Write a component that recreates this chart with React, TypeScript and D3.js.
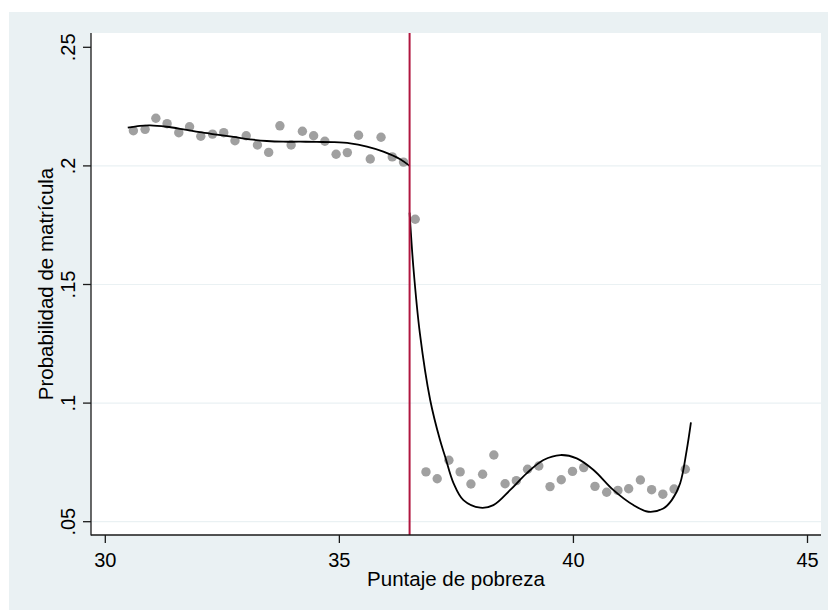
import React, { useEffect, useRef } from 'react';
import * as d3 from 'd3';

// binned means, left of the cutoff
const leftX = [30.60, 30.85, 31.08, 31.32, 31.57, 31.80, 32.04, 32.29, 32.53, 32.77, 33.01, 33.25, 33.49,
  33.73, 33.97, 34.21, 34.45, 34.69, 34.93, 35.17, 35.41, 35.66, 35.89, 36.13, 36.37];
const leftY = [0.2148, 0.2154, 0.2201, 0.2178, 0.2140, 0.2165, 0.2125, 0.2134, 0.2140, 0.2106, 0.2127, 0.2088, 0.2057,
  0.2169, 0.2088, 0.2146, 0.2127, 0.2104, 0.2049, 0.2056, 0.2129, 0.2029, 0.2121, 0.2038, 0.2016];

// binned means, right of the cutoff
const rightX = [36.62, 36.85, 37.09, 37.34, 37.58, 37.81, 38.06, 38.30, 38.54, 38.78, 39.02, 39.26, 39.50,
  39.74, 39.98, 40.22, 40.46, 40.71, 40.95, 41.18, 41.43, 41.67, 41.91, 42.15, 42.39];
const rightY = [0.1775, 0.0710, 0.0681, 0.0759, 0.0710, 0.0659, 0.0700, 0.0781, 0.0660, 0.0673, 0.0721, 0.0735, 0.0648,
  0.0677, 0.0712, 0.0728, 0.0649, 0.0624, 0.0632, 0.0639, 0.0676, 0.0635, 0.0616, 0.0638, 0.0721];

// fitted polynomial
const fitLeftX = [30.48, 30.74, 30.96, 31.31, 31.67, 32.02, 32.38, 32.74, 33.09, 33.45, 33.80, 34.16, 34.52,
  34.87, 35.23, 35.59, 35.94, 36.30, 36.50];
const fitLeftY = [0.2161, 0.2169, 0.2171, 0.2165, 0.2154, 0.2142, 0.2132, 0.2122, 0.2112, 0.2105, 0.2102, 0.2102, 0.2101,
  0.2100, 0.2095, 0.2081, 0.2060, 0.2028, 0.2000];
const fitRightX = [36.50, 36.58, 36.72, 36.94, 37.15, 37.26, 37.44, 37.65, 38.01, 38.29, 38.65, 39.00, 39.36,
  39.72, 40.07, 40.43, 40.85, 41.28, 41.60, 41.92, 42.10, 42.28, 42.42, 42.51];
const fitRightY = [0.1803, 0.1575, 0.1294, 0.1013, 0.0844, 0.0774, 0.0662, 0.0591, 0.0559, 0.0570, 0.0634, 0.0704, 0.0760,
  0.0781, 0.0767, 0.0718, 0.0634, 0.0570, 0.0542, 0.0556, 0.0591, 0.0662, 0.0802, 0.0919];

const xTicks = [30, 35, 40, 45];
const yTicks = [0.05, 0.1, 0.15, 0.2, 0.25];
const yTickLabels = ['.05', '.1', '.15', '.2', '.25'];
const gridTicks = [0.05, 0.1, 0.15, 0.2];
const cutoff = 36.5;

const W = 828;
const H = 610;
const FONT = '"Liberation Sans", Arial, Helvetica, sans-serif';

export default function App() {
  const ref = useRef<SVGSVGElement>(null);

  useEffect(() => {
    const svg = d3.select(ref.current);
    svg.selectAll('*').remove();

    const plot = { left: 91, right: 821, top: 33, bottom: 535 };
    const x = d3.scaleLinear().domain([30, 45]).range([105.3, 807.5]);
    const y = d3.scaleLinear().domain([0.05, 0.25]).range([521.7, 47.3]);

    // outer (graph) region and inner plot region
    svg.append('rect').attr('x', 9).attr('y', 12).attr('width', W - 9).attr('height', H - 12).attr('fill', '#EAF1F3');
    svg.append('rect')
      .attr('x', plot.left).attr('y', plot.top)
      .attr('width', plot.right - plot.left).attr('height', plot.bottom - plot.top)
      .attr('fill', '#fff');

    // gridlines
    svg.append('g').selectAll('line').data(gridTicks).join('line')
      .attr('x1', plot.left).attr('x2', plot.right)
      .attr('y1', d => y(d)).attr('y2', d => y(d))
      .attr('stroke', '#EAF1F3').attr('stroke-width', 1.2);

    // scatter
    const pts = leftX.map((v, i) => [v, leftY[i]]).concat(rightX.map((v, i) => [v, rightY[i]]));
    svg.append('g').selectAll('circle').data(pts).join('circle')
      .attr('cx', d => x(d[0])).attr('cy', d => y(d[1]))
      .attr('r', 4.7).attr('fill', '#A0A0A0');

    // fitted lines
    const line = d3.line<number[]>().x(d => x(d[0])).y(d => y(d[1])).curve(d3.curveCatmullRom.alpha(0.5));
    svg.append('path').attr('d', line(fitLeftX.map((v, i) => [v, fitLeftY[i]])))
      .attr('fill', 'none').attr('stroke', '#000').attr('stroke-width', 1.8);
    svg.append('path').attr('d', line(fitRightX.map((v, i) => [v, fitRightY[i]])))
      .attr('fill', 'none').attr('stroke', '#000').attr('stroke-width', 1.8);

    // cutoff
    svg.append('line')
      .attr('x1', x(cutoff)).attr('x2', x(cutoff))
      .attr('y1', plot.top).attr('y2', plot.bottom)
      .attr('stroke', '#B0163F').attr('stroke-width', 2);

    // axes
    const ax = svg.append('g').attr('stroke', '#1a1a1a').attr('stroke-width', 1.3);
    ax.append('line').attr('x1', plot.left).attr('x2', plot.left).attr('y1', plot.top).attr('y2', plot.bottom + 0.6);
    ax.append('line').attr('x1', plot.left).attr('x2', plot.right).attr('y1', plot.bottom).attr('y2', plot.bottom);
    ax.selectAll('.yt').data(yTicks).join('line')
      .attr('x1', plot.left - 8).attr('x2', plot.left)
      .attr('y1', d => y(d)).attr('y2', d => y(d));
    ax.selectAll('.xt').data(xTicks).join('line')
      .attr('x1', d => x(d)).attr('x2', d => x(d))
      .attr('y1', plot.bottom).attr('y2', plot.bottom + 8);

    const txt = svg.append('g').attr('font-family', FONT).attr('fill', '#000').attr('text-anchor', 'middle');
    txt.selectAll('.xl').data(xTicks).join('text')
      .attr('x', d => x(d)).attr('y', 567)
      .attr('font-size', 20).text(d => String(d));
    txt.selectAll('.yl').data(yTicks).join('text')
      .attr('transform', d => `translate(75,${y(d)}) rotate(-90)`)
      .attr('font-size', 20).text((d, i) => yTickLabels[i]);
    txt.append('text').attr('x', (plot.left + plot.right) / 2).attr('y', 586)
      .attr('font-size', 20.5).text('Puntaje de pobreza');
    txt.append('text').attr('transform', `translate(53,${(plot.top + plot.bottom) / 2}) rotate(-90)`)
      .attr('font-size', 20.5).text('Probabilidad de matrícula');
  }, []);

  return (
    <svg ref={ref} width={W} height={H}
      style={{ position: 'absolute', left: 0, top: 0, background: '#fff' }} />
  );
}
